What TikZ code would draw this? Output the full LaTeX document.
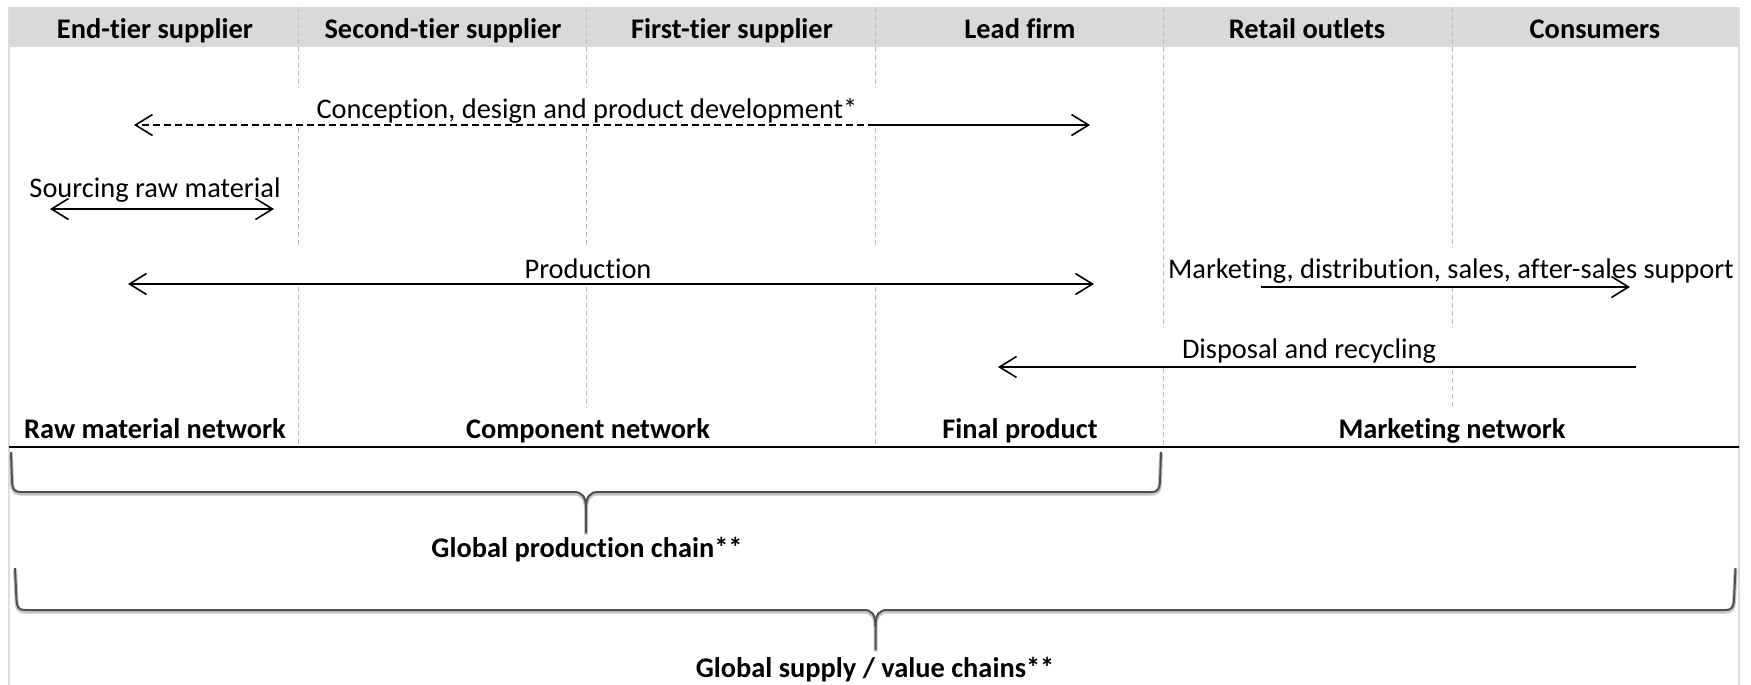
\documentclass[tikz,border=0pt]{standalone}
\usepackage{fontspec}
\setmainfont{Carlito}[Ligatures=CommonOff]
\usetikzlibrary{arrows.meta}
\definecolor{bandgray}{HTML}{D9D9D9}
\definecolor{framegray}{HTML}{DCDCE4}
\definecolor{divgray}{HTML}{BDBDBD}
\definecolor{bracegray}{HTML}{505050}
\tikzset{
  hdr/.style={font=\fontsize{14.2}{16}\selectfont\bfseries, anchor=base, inner sep=0pt},
  lbl/.style={font=\fontsize{14.2}{16}\selectfont, anchor=base, inner sep=0pt},
  divider/.style={draw=divgray, line width=0.5pt, dash pattern=on 2.5pt off 1.5pt},
  flow/.style={line width=0.8pt, -{Straight Barb[length=8.5pt,width=10.5pt,line width=0.8pt]}},
  bflow/.style={line width=0.8pt, {Straight Barb[length=8.5pt,width=10.5pt,line width=0.8pt]}-{Straight Barb[length=8.5pt,width=10.5pt,line width=0.8pt]}},
  bracepath/.style={draw=bracegray, line width=1pt, line join=round},
  braceshadow/.style={draw=gray!45, line width=2pt, line join=round}
}
\begin{document}
\begin{tikzpicture}[x=0.5pt, y=-0.5pt]
\useasboundingbox (0,0) rectangle (1751,685);
\fill[white] (0,0) rectangle (1751,685);
% header band
\fill[bandgray] (9,7) rectangle (1739,47);
% frame side lines
\draw[framegray, line width=0.6pt] (9,7) -- (9,685);
\draw[framegray, line width=0.6pt] (1739,7) -- (1739,685);
% dividers
\draw[divider] (298,7) -- (298,88) (298,128) -- (298,248) (298,287) -- (298,447);
\draw[divider] (586,7) -- (586,88) (586,128) -- (586,248) (586,287) -- (586,408);
\draw[divider] (875,7) -- (875,88) (875,128) -- (875,248) (875,287) -- (875,447);
\draw[divider] (1163,7) -- (1163,328) (1163,368) -- (1163,447);
\draw[divider] (1452,7) -- (1452,248) (1452,287) -- (1452,328) (1452,370) -- (1452,408);
% header labels
\node[hdr] (h1) at (155,39) {End-tier supplier};
\node[hdr] (h2) at (443,39) {Second-tier supplier};
\node[hdr] (h3) at (732,39) {First-tier supplier};
\node[hdr] (h4) at (1020,39) {Lead firm};
\node[hdr] (h5) at (1307,39) {Retail outlets};
\node[hdr] (h6) at (1595,39) {Consumers};
% activity labels
\node[lbl] (tcon) at (587,118) {Conception, design and product development*};
\node[lbl] (tsrc) at (155,197) {Sourcing raw material};
\node[lbl] (tprod) at (588,278) {Production};
\node[lbl] (tmkt) at (1451,278) {Marketing, distribution, sales, after-sales support};
\node[lbl] (tdis) at (1309,358) {Disposal and recycling};
% arrow end points
\coordinate (conL) at (134,125);
\coordinate (conM) at (875,125);
\coordinate (conR) at (1090,125);
\coordinate (srcL) at (50,209);
\coordinate (srcR) at (274,209);
\coordinate (prodL) at (128,284);
\coordinate (prodR) at (1094,284);
\coordinate (mktL) at (1261,287);
\coordinate (mktR) at (1630,287);
\coordinate (disR) at (1636,367);
\coordinate (disL) at (998,367);
% arrows
\draw[flow, dash pattern=on 3.5pt off 2pt] (conM) -- (conL);
\draw[flow] (conM) -- (conR);
\draw[bflow] (srcL) -- (srcR);
\draw[bflow] (prodL) -- (prodR);
\draw[flow] (mktL) -- (mktR);
\draw[flow] (disR) -- (disL);
% network labels
\node[hdr] (n1) at (155,438) {Raw material network};
\node[hdr] (n2) at (588,438) {Component network};
\node[hdr] (n3) at (1020,438) {Final product};
\node[hdr] (n4) at (1452,438) {Marketing network};
% base line
\coordinate (baseL) at (9,447);
\coordinate (baseR) at (1739,447);
\draw[line width=0.7pt] (baseL) -- (baseR);
% brace 1
\foreach \s/\o in {braceshadow/1.5, bracepath/0}{
\draw[\s, yshift=-\o*0.5pt] (11,452) -- (12,482) .. controls (12.5,489) and (14,492) .. (21,492) -- (574,492) .. controls (582,492) and (586,497) .. (586,508) -- (586,533);
\draw[\s, yshift=-\o*0.5pt] (1161,452) -- (1160,482) .. controls (1159.5,489) and (1158,492) .. (1151,492) -- (598,492) .. controls (590,492) and (586,497) .. (586,508);
}
\node[hdr] (g1) at (587,557) {Global production chain**};
% brace 2
\foreach \s/\o in {braceshadow/1.5, bracepath/0}{
\draw[\s, yshift=-\o*0.5pt] (15,568) -- (16.5,600) .. controls (17,607) and (18.5,610) .. (25,610) -- (864,610) .. controls (872,610) and (875.5,615) .. (875.5,626) -- (875.5,650);
\draw[\s, yshift=-\o*0.5pt] (1735.5,568) -- (1734,600) .. controls (1733.5,607) and (1732,610) .. (1725,610) -- (887,610) .. controls (879,610) and (875.5,615) .. (875.5,626);
}
\node[hdr] (g2) at (875,677) {Global supply / value chains**};
\end{tikzpicture}
\end{document}
